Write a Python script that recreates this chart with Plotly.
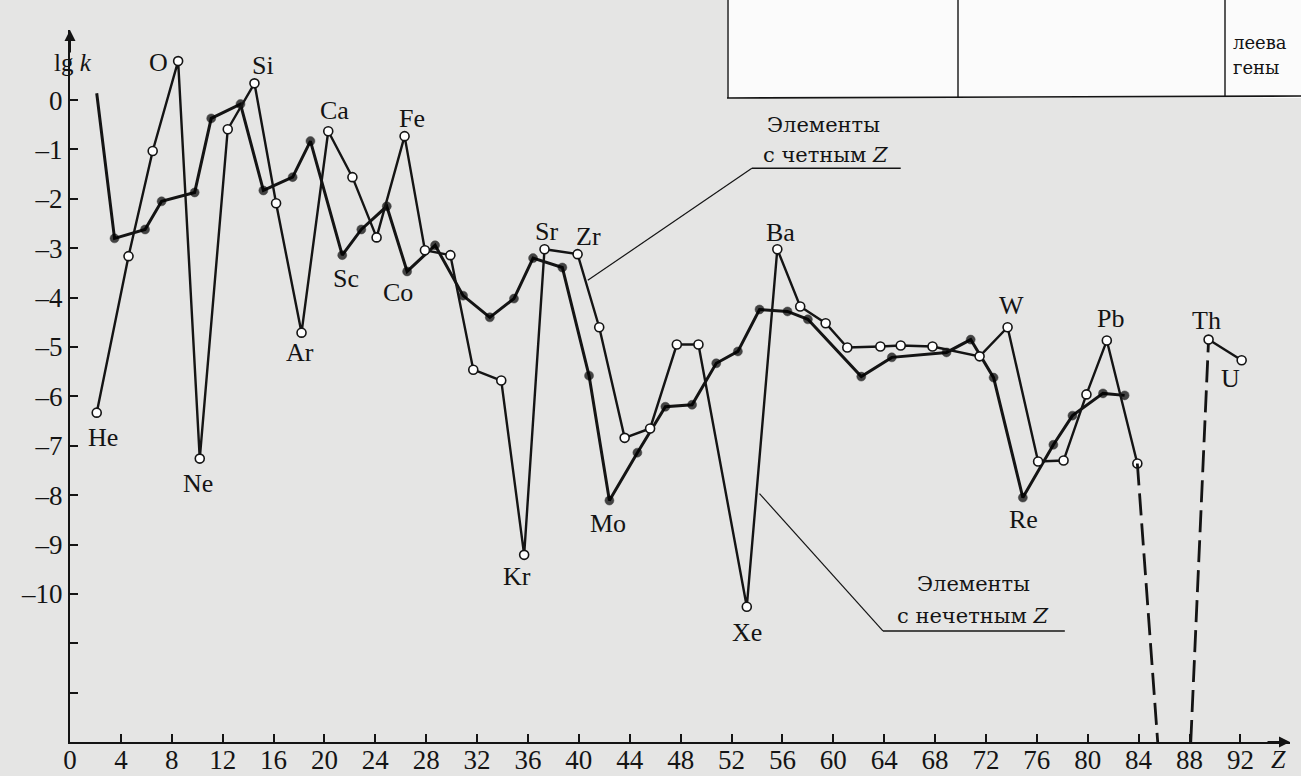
import plotly.graph_objects as go

# Distribution coefficients lg k versus atomic number Z
# Elements with even Z (open circles)
even_z = [2.1, 4.6, 6.5, 8.5, 10.2, 12.4, 14.5, 16.2, 18.2, 20.3, 22.2, 24.1, 26.3,
          27.9, 29.9, 31.7, 33.9, 35.7, 37.3, 39.9, 41.6, 43.6, 45.6, 47.7, 49.4,
          53.2, 55.6, 57.4, 59.4, 61.1, 63.7, 65.3, 67.8, 71.5, 73.7, 76.1, 78.1,
          79.9, 81.5, 83.9]
even_lgk = [-6.33, -3.16, -1.03, 0.79, -7.26, -0.59, 0.34, -2.09, -4.71, -0.63, -1.56,
            -2.78, -0.73, -3.04, -3.14, -5.46, -5.68, -9.21, -3.02, -3.12, -4.60, -6.84,
            -6.65, -4.95, -4.95, -10.26, -3.02, -4.18, -4.52, -5.01, -4.99, -4.97, -4.99,
            -5.19, -4.60, -7.32, -7.30, -5.96, -4.87, -7.36]

# Th and U
tail_z = [89.5, 92.1]
tail_lgk = [-4.85, -5.27]

# Branches running off the bottom of the axis (Rn region), drawn dashed
drop_z = [83.9, 85.5]
drop_lgk = [-7.36, -13.0]
rise_z = [88.1, 89.5]
rise_lgk = [-13.0, -4.85]

# Elements with odd Z (filled circles); the first point has no marker
odd_z = [2.1, 3.5, 5.9, 7.2, 9.8, 11.1, 13.4, 15.2, 17.5, 18.9, 21.4, 22.9, 24.9, 26.5,
         28.7, 30.9, 33.0, 34.9, 36.4, 38.7, 40.8, 42.4, 44.6, 46.8, 48.9, 50.8, 52.5,
         54.2, 56.4, 58.0, 62.2, 64.6, 68.9, 70.8, 72.6, 74.9, 77.3, 78.8, 81.2, 82.9]
odd_lgk = [0.14, -2.80, -2.62, -2.05, -1.87, -0.37, -0.08, -1.83, -1.56, -0.83, -3.14,
           -2.62, -2.15, -3.47, -2.94, -3.96, -4.40, -4.02, -3.20, -3.39, -5.58, -8.11,
           -7.14, -6.21, -6.17, -5.33, -5.09, -4.24, -4.28, -4.44, -5.60, -5.21, -5.11,
           -4.85, -5.62, -8.05, -6.98, -6.39, -5.94, -5.98]

# Element labels: (symbol, series, index, dx, dy) - offsets in pixels
labels = [
    ("He", "even", 0, 6, -25), ("O", "even", 3, -20, -1), ("Ne", "even", 4, -2, -25),
    ("Si", "even", 6, 9, 18), ("Ar", "even", 8, -2, -20), ("Ca", "even", 9, 6, 21),
    ("Fe", "even", 12, 7, 18), ("Kr", "even", 17, -7, -22), ("Sr", "even", 18, 2, 18),
    ("Zr", "even", 19, 11, 18), ("Xe", "even", 25, 0, -26), ("Ba", "even", 26, 3, 17),
    ("W", "even", 34, 4, 22), ("Pb", "even", 38, 4, 22),
    ("Th", "tail", 0, -2, 19), ("U", "tail", 1, -11, -18),
    ("Sc", "odd", 10, 4, -23), ("Co", "odd", 13, -9, -21), ("Mo", "odd", 21, -1, -23),
    ("Re", "odd", 35, 1, -22),
]

y_ticks = list(range(0, -13, -1))
y_ticktext = ["0"] + [f"\u2013{abs(v)}" for v in range(-1, -11, -1)] + ["", ""]
x_ticks = list(range(0, 93, 4))

INK = "#141414"
PAPER = "#e5e5e4"
SERIF = "Liberation Serif, DejaVu Serif, serif"
CYR = "DejaVu Serif, Liberation Serif, serif"

# Plot area geometry (pixels)
W, H = 1301, 776
ML, MR, MT, MB = 70, 11, 30, 34
PW, PH = W - ML - MR, H - MT - MB


def px(x):
    return (x - ML) / PW


def py(y):
    return (H - MB - y) / PH


fig = go.Figure()

fig.add_trace(go.Scatter(
    x=odd_z, y=odd_lgk, mode="lines+markers",
    line=dict(color=INK, width=3),
    marker=dict(color="black", size=[0] + [9] * (len(odd_z) - 1),
                line=dict(color="black", width=0.5)),
    cliponaxis=False, showlegend=False))

fig.add_trace(go.Scatter(
    x=even_z, y=even_lgk, mode="lines+markers",
    line=dict(color=INK, width=2.4),
    marker=dict(color="white", size=9, symbol="circle", line=dict(color=INK, width=1.6)),
    cliponaxis=False, showlegend=False))

for zz, vv in ((drop_z, drop_lgk), (rise_z, rise_lgk)):
    fig.add_trace(go.Scatter(
        x=zz, y=vv, mode="lines",
        line=dict(color=INK, width=2.8, dash="22px,8px"),
        cliponaxis=False, showlegend=False))

fig.add_trace(go.Scatter(
    x=tail_z, y=tail_lgk, mode="lines+markers",
    line=dict(color=INK, width=2.4),
    marker=dict(color="white", size=9, line=dict(color=INK, width=1.6)),
    cliponaxis=False, showlegend=False))

series = {"even": (even_z, even_lgk), "odd": (odd_z, odd_lgk), "tail": (tail_z, tail_lgk)}
annotations = []
for sym, s, i, dx, dy in labels:
    xs, ys = series[s]
    annotations.append(dict(x=xs[i], y=ys[i], text=sym, showarrow=False,
                            xshift=dx, yshift=dy,
                            font=dict(family=SERIF, size=26, color=INK)))

# Axis arrows and titles
annotations += [
    dict(x=0, y=1.42, ax=0, ay=24, xref="x", yref="y", axref="pixel", ayref="pixel",
         text="", showarrow=True, arrowhead=2, arrowsize=1.1, arrowwidth=2, arrowcolor=INK),
    dict(x=95.9, y=-13, ax=-24, ay=0, xref="x", yref="y", axref="pixel", ayref="pixel",
         text="", showarrow=True, arrowhead=2, arrowsize=1.1, arrowwidth=2, arrowcolor=INK),
    dict(x=px(52), y=py(47), xref="paper", yref="paper", text="lg <i>k</i>",
         showarrow=False, font=dict(family=SERIF, size=25, color=INK)),
    dict(x=px(1288), y=py(743), xref="paper", yref="paper", yanchor="top",
         text="<i>Z</i>", showarrow=False, font=dict(family=SERIF, size=26, color=INK)),
]

# Series captions with leader lines
cap_font = dict(family=CYR, size=21, color=INK)
annotations += [
    dict(x=59.2, y=-0.51, text="Элементы", showarrow=False, font=cap_font),
    dict(x=59.4, y=-1.12, text="с четным <i>Z</i>", showarrow=False, font=cap_font),
    dict(x=71.0, y=-9.80, text="Элементы", showarrow=False, font=cap_font),
    dict(x=71.0, y=-10.45, text="с нечетным <i>Z</i>", showarrow=False, font=cap_font),
]

shapes = [
    dict(type="line", x0=53.6, y0=-1.38, x1=65.3, y1=-1.38, line=dict(color=INK, width=1.5)),
    dict(type="line", x0=53.6, y0=-1.38, x1=40.7, y1=-3.65, line=dict(color=INK, width=1.2)),
    dict(type="line", x0=63.9, y0=-10.75, x1=78.2, y1=-10.75, line=dict(color=INK, width=1.5)),
    dict(type="line", x0=63.9, y0=-10.75, x1=54.2, y1=-7.97, line=dict(color=INK, width=1.2)),
]

# Fragment of the table above the figure
shapes += [
    dict(type="rect", xref="paper", yref="paper", x0=px(727), y0=py(98), x1=px(1301), y1=py(0),
         fillcolor="#fbfbfb", line=dict(width=0), layer="below"),
    dict(type="line", xref="paper", yref="paper", x0=px(727), y0=py(98), x1=px(1301), y1=py(96),
         line=dict(color=INK, width=1.6)),
    dict(type="line", xref="paper", yref="paper", x0=px(728), y0=py(0), x1=px(728), y1=py(98),
         line=dict(color=INK, width=1.4)),
    dict(type="line", xref="paper", yref="paper", x0=px(958), y0=py(0), x1=px(958), y1=py(97),
         line=dict(color=INK, width=1.4)),
    dict(type="line", xref="paper", yref="paper", x0=px(1225), y0=py(0), x1=px(1225), y1=py(96),
         line=dict(color=INK, width=1.4)),
]
annotations += [
    dict(x=px(1231), y=py(30), xref="paper", yref="paper", xanchor="left", text="леева",
         showarrow=False, font=dict(family=CYR, size=18, color=INK)),
    dict(x=px(1231), y=py(55), xref="paper", yref="paper", xanchor="left", text="гены",
         showarrow=False, font=dict(family=CYR, size=18, color=INK)),
]

fig.update_layout(
    width=W, height=H,
    margin=dict(l=ML, r=MR, t=MT, b=MB),
    paper_bgcolor=PAPER, plot_bgcolor=PAPER,
    annotations=annotations, shapes=shapes,
    xaxis=dict(range=[0, 95.9], automargin=False, showgrid=False, zeroline=False,
               showline=True, linecolor=INK, linewidth=2, ticks="inside", ticklen=8,
               tickwidth=1.6, tickcolor=INK, tickvals=x_ticks,
               ticktext=[str(v) for v in x_ticks], ticklabelstandoff=-7,
               tickfont=dict(family=SERIF, size=27, color=INK)),
    yaxis=dict(range=[-13, 1.42], automargin=False, showgrid=False, zeroline=False,
               showline=True, linecolor=INK, linewidth=2, ticks="inside", ticklen=8,
               tickwidth=1.6, tickcolor=INK, tickvals=y_ticks, ticktext=y_ticktext,
               tickfont=dict(family=SERIF, size=27, color=INK)),
)

fig.write_html("out.html")
